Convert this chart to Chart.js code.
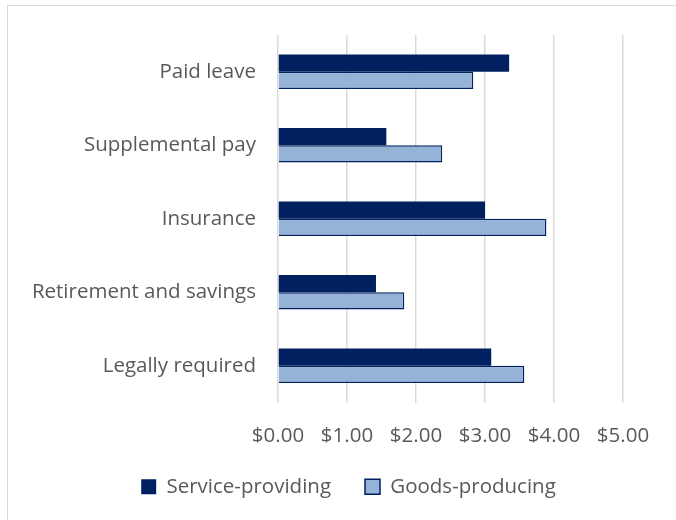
<!DOCTYPE html>
<html>
<head>
<meta charset="utf-8">
<script src="https://cdn.jsdelivr.net/npm/chart.js@4"></script>
<style>
  html, body { margin: 0; padding: 0; background: #fff; }
  #wrap { position: relative; width: 676px; height: 520px; overflow: hidden; }
  #frame { position: absolute; left: 7px; top: 5px; width: 700px; height: 560px; border: 1px solid #d9d9d9; }
  canvas { position: absolute; left: 0; top: 0; }
</style>
</head>
<body>
<div id="wrap">
  <div id="frame"></div>
  <canvas id="chart" width="676" height="540"></canvas>
</div>
<script>
// Cost per hour worked, by benefit category
const categories = ['Paid leave', 'Supplemental pay', 'Insurance', 'Retirement and savings', 'Legally required'];
const serviceProviding = [3.35, 1.57, 3.00, 1.42, 3.09];
const goodsProducing = [2.83, 2.38, 3.89, 1.83, 3.57];
const tickValues = [0, 1, 2, 3, 4, 5];

const navy = '#002060';
const lightBlue = '#95B3D7';
const textGray = '#595959';
const gridGray = '#d9d9d9';
const fontFamily = 'Open Sans';

// move the legend so it is centred under the whole frame, not the plot
const legendShift = {
  id: 'legendShift',
  afterLayout(chart) {
    const lg = chart.legend;
    if (!lg) return;
    lg.left += 37;
    lg.right += 37;
  }
};

new Chart(document.getElementById('chart'), {
  type: 'bar',
  data: {
    labels: categories,
    datasets: [
      {
        label: 'Service-providing',
        data: serviceProviding,
        backgroundColor: navy,
        borderWidth: 0
      },
      {
        label: 'Goods-producing',
        data: goodsProducing,
        backgroundColor: lightBlue,
        borderColor: navy,
        borderWidth: 1.5
      }
    ]
  },
  options: {
    indexAxis: 'y',
    responsive: false,
    animation: false,
    datasets: { bar: { barPercentage: 1, categoryPercentage: 0.466 } },
    layout: { padding: { top: 35, right: 53, bottom: 33, left: 0 } },
    scales: {
      x: {
        min: 0,
        max: 5,
        afterBuildTicks: (scale) => { scale.ticks = tickValues.map(v => ({ value: v })); },
        afterFit: (scale) => { scale.height = 40; },
        grid: { color: gridGray, lineWidth: 1.5, drawTicks: false },
        border: { display: false },
        ticks: {
          color: textGray,
          padding: 21,
          font: { family: fontFamily, size: 20.5 },
          callback: (v) => '$' + Number(v).toFixed(2)
        }
      },
      y: {
        afterFit: (scale) => { scale.width = 278; },
        grid: { display: false, drawTicks: false },
        border: { display: false },
        ticks: {
          color: textGray,
          padding: 22,
          font: { family: fontFamily, size: 20.5 }
        }
      }
    },
    plugins: {
      legend: {
        position: 'bottom',
        labels: {
          color: textGray,
          font: { family: fontFamily, size: 20.5 },
          boxWidth: 15,
          boxHeight: 15,
          padding: 34,
          useBorderRadius: false
        }
      },
      tooltip: { enabled: false }
    }
  },
  plugins: [legendShift]
});
</script>
</body>
</html>
